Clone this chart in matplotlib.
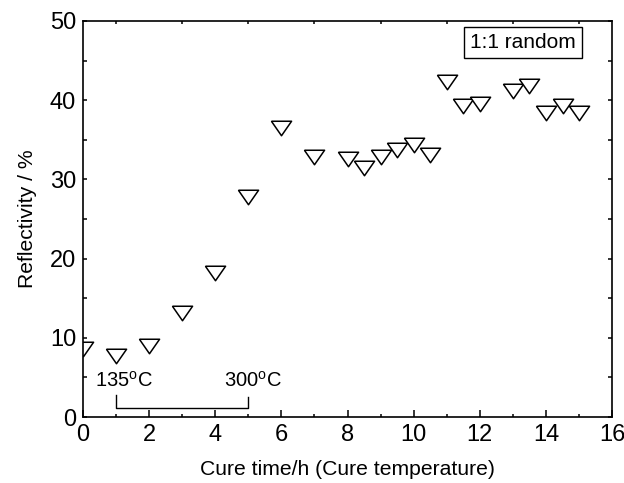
import matplotlib
matplotlib.use("Agg")
import matplotlib.pyplot as plt
from matplotlib.ticker import MultipleLocator

plt.rcParams['font.family'] = ['Liberation Sans', 'DejaVu Sans']
plt.rcParams['mathtext.fontset'] = 'custom'
plt.rcParams['mathtext.rm'] = 'Liberation Sans'

# Cure time (h) and reflectivity (%)
cure_time = [0, 1, 2, 3, 4, 5, 6, 7, 8, 8.5, 9, 9.5, 10, 10.5,
             11, 11.5, 12, 13, 13.5, 14, 14.5, 15]
reflectivity = [8.6, 7.7, 9.0, 13.1, 18.2, 27.8, 36.5, 32.8, 32.6, 31.4, 32.8, 33.7, 34.3, 33.1,
                42.3, 39.3, 39.5, 41.2, 41.8, 38.4, 39.3, 38.4]

ramp_start, ramp_end = 1, 5
ramp_labels = ["135$^{\\mathrm{o}}$C", "300$^{\\mathrm{o}}$C"]

fig = plt.figure(figsize=(6.24, 4.83), dpi=100)
ax = fig.add_axes([0.133, 0.1366, 0.848, 0.82])

# wide, flat down-triangle like the original
tri = [(-1, 0.72), (1, 0.72), (0, -0.72), (-1, 0.72)]
ax.plot(cure_time, reflectivity, linestyle='none', marker=tri, markersize=14.5,
        markerfacecolor='white', markeredgecolor='black', markeredgewidth=1.1)

# heating ramp bracket
ax.plot([ramp_start, ramp_start, ramp_end, ramp_end], [2.8, 1.2, 1.2, 2.5],
        color='black', lw=1.0)
ax.text(ramp_start + 0.25, 3.3, ramp_labels[0], ha='center', va='bottom', fontsize=14.5)
ax.text(ramp_end + 0.15, 3.3, ramp_labels[1], ha='center', va='bottom', fontsize=14.5)

ax.text(0.932, 0.946, "1:1 random", transform=ax.transAxes, ha='right', va='center',
        fontsize=15,
        bbox=dict(boxstyle='square,pad=0.3', facecolor='white', edgecolor='black', lw=1.0))

ax.set_xlim(0, 16)
ax.set_ylim(0, 50)
ax.xaxis.set_major_locator(MultipleLocator(2))
ax.xaxis.set_minor_locator(MultipleLocator(1))
ax.yaxis.set_major_locator(MultipleLocator(10))
ax.yaxis.set_minor_locator(MultipleLocator(5))
ax.tick_params(which='both', direction='in', top=True, right=True, width=1.1)
ax.tick_params(which='major', length=5, labelsize=17, pad=5)
ax.tick_params(which='minor', length=3)
ax.tick_params(axis='x', which='major', top=False)
ax.tick_params(axis='x', which='minor', top=True, length=2.5)
ax.tick_params(axis='y', which='major', right=True, length=3)
for s in ax.spines.values():
    s.set_linewidth(1.2)

ax.set_xlabel("Cure time/h (Cure temperature)", fontsize=15.2, labelpad=10)
ax.set_ylabel("Reflectivity / %", fontsize=15.2, labelpad=9)

fig.savefig("out.png", dpi=100)
